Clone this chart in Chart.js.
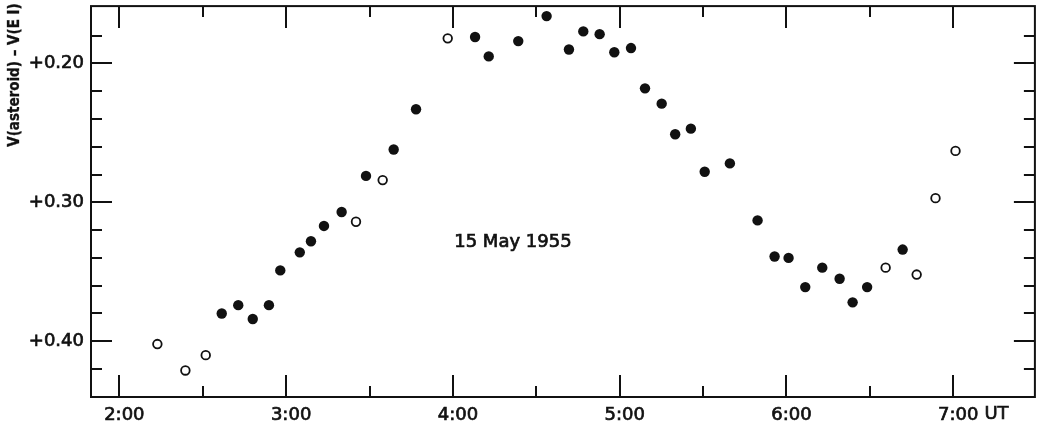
<!DOCTYPE html>
<html>
<head>
<meta charset="utf-8">
<script src="https://cdn.jsdelivr.net/npm/chart.js@4.4.0/dist/chart.umd.min.js"></script>
<style>
    body { margin: 0; background: #fff; }
    #wrap { width: 1041px; height: 433px; }
</style>
</head>
<body>
<div id="wrap"><canvas id="myChart"></canvas></div>
<script>
// time in decimal hours UT, value = V(asteroid) - V(E I)
const filledTimes = [2.614, 2.713, 2.800, 2.897, 2.965, 3.082, 3.149, 3.227, 3.333, 3.479,
    3.645, 3.779, 4.133, 4.215, 4.392, 4.562, 4.696, 4.782, 4.880, 4.968,
    5.068, 5.152, 5.252, 5.333, 5.427, 5.510, 5.661, 5.827, 5.929, 6.013,
    6.113, 6.215, 6.319, 6.397, 6.484, 6.697];
const filledValues = [0.380, 0.374, 0.384, 0.374, 0.349, 0.336, 0.328, 0.317, 0.307, 0.281,
    0.262, 0.233, 0.181, 0.195, 0.184, 0.166, 0.190, 0.177, 0.179, 0.192,
    0.189, 0.218, 0.229, 0.251, 0.247, 0.278, 0.272, 0.313, 0.339, 0.340,
    0.361, 0.347, 0.355, 0.372, 0.361, 0.334];

const openTimes = [2.228, 2.396, 2.518, 3.419, 3.579, 3.969, 6.595, 6.781, 6.894, 7.014];
const openValues = [0.402, 0.421, 0.410, 0.314, 0.284, 0.182, 0.347, 0.352, 0.297, 0.263];

const hourTicks = [2, 3, 4, 5, 6, 7];
const halfHourTicks = [2.5, 3.5, 4.5, 5.5, 6.5];
const magTicks = [0.20, 0.30, 0.40];
const magMinorTicks = [0.18, 0.22, 0.24, 0.26, 0.28, 0.32, 0.34, 0.36, 0.38, 0.42];

const axisTitle = "V(asteroid) \u2013 V(E I)";
const dateLabel = "15 May 1955";
const unitLabel = "UT";

const FONT = "'DejaVu Sans', sans-serif";
const INK = "#111";

function toPoints(xs, ys) {
    let result = [];
    for (let i = 0; i < xs.length; i++) {
        result.push({ x: xs[i], y: ys[i] });
    }
    return result;
}

// text with a thin outline so it looks as heavy as the printed figure
function heavyText(ctx, text, x, y) {
    ctx.fillText(text, x, y);
    ctx.strokeText(text, x, y);
}

// frame, inside ticks on all four sides, and the free text
const framePlugin = {
    id: 'frame',
    beforeDatasetsDraw(chart) {
        const ctx = chart.ctx;
        const a = chart.chartArea;
        const xs = chart.scales.x;
        const ys = chart.scales.y;
        ctx.save();
        ctx.strokeStyle = INK;
        ctx.lineWidth = 2;
        ctx.strokeRect(a.left, a.top, a.right - a.left, a.bottom - a.top);

        ctx.beginPath();
        const xTick = (v, len) => {
            const px = Math.round(xs.getPixelForValue(v));
            ctx.moveTo(px, a.bottom); ctx.lineTo(px, a.bottom - len);
            ctx.moveTo(px, a.top); ctx.lineTo(px, a.top + len);
        };
        const yTick = (v, len) => {
            const py = Math.round(ys.getPixelForValue(v));
            ctx.moveTo(a.left, py); ctx.lineTo(a.left + len, py);
            ctx.moveTo(a.right, py); ctx.lineTo(a.right - len, py);
        };
        hourTicks.forEach(v => xTick(v, 22));
        halfHourTicks.forEach(v => xTick(v, 11));
        magTicks.forEach(v => yTick(v, 21));
        magMinorTicks.forEach(v => yTick(v, 11));
        ctx.stroke();
        ctx.restore();
    },
    afterDraw(chart) {
        const ctx = chart.ctx;
        const xs = chart.scales.x;
        const ys = chart.scales.y;
        ctx.save();
        ctx.fillStyle = INK;
        ctx.strokeStyle = INK;
        ctx.lineWidth = 0.7;

        // "UT" after the last hour label
        ctx.font = "18px " + FONT;
        const lastX = xs.getPixelForValue(hourTicks[hourTicks.length - 1]) + 5;
        const w = ctx.measureText("7:00").width;
        ctx.textAlign = 'left';
        ctx.textBaseline = 'middle';
        heavyText(ctx, unitLabel, lastX + w / 2 + 6, 414);

        // date label inside the plot
        ctx.textAlign = 'center';
        heavyText(ctx, dateLabel, xs.getPixelForValue(4.36), ys.getPixelForValue(0.329));

        // rotated y title in the top left corner
        ctx.font = "bold 15px 'DejaVu Sans Condensed', 'DejaVu Sans', sans-serif";
        ctx.lineWidth = 0.3;
        ctx.translate(15, 75);
        ctx.rotate(-Math.PI / 2);
        heavyText(ctx, axisTitle, 0, 0);
        ctx.restore();
    }
};

const data = {
    datasets: [{
        label: 'filled',
        data: toPoints(filledTimes, filledValues),
        pointRadius: 5.2,
        pointBackgroundColor: INK,
        pointBorderColor: INK,
        pointBorderWidth: 0,
        showLine: false
    }, {
        label: 'open',
        data: toPoints(openTimes, openValues),
        pointRadius: 4.3,
        pointBackgroundColor: '#fff',
        pointBorderColor: INK,
        pointBorderWidth: 1.8,
        showLine: false
    }]
};

const config = {
    type: 'scatter',
    data: data,
    options: {
        responsive: true,
        maintainAspectRatio: false,
        animation: false,
        layout: { padding: { top: 6, right: 6, left: 0, bottom: 0 } },
        plugins: {
            legend: { display: false },
            tooltip: { enabled: false }
        },
        scales: {
            x: {
                type: 'linear',
                min: 1.830,
                max: 7.490,
                grid: { display: false, drawTicks: false },
                border: { display: false },
                afterBuildTicks: (scale) => {
                    scale.ticks = hourTicks.map(v => ({ value: v }));
                },
                afterFit: (scale) => {
                    scale.height = 36;
                    scale.paddingLeft = 0;
                    scale.paddingRight = 0;
                },
                ticks: {
                    color: INK,
                    padding: 8,
                    labelOffset: 5,
                    maxRotation: 0,
                    autoSkip: false,
                    textStrokeColor: INK,
                    textStrokeWidth: 0.7,
                    font: { family: FONT, size: 18 },
                    callback: (v) => v + ":00"
                }
            },
            y: {
                type: 'linear',
                reverse: true,
                min: 0.1588,
                max: 0.4401,
                grid: { display: false, drawTicks: false },
                border: { display: false },
                afterBuildTicks: (scale) => {
                    scale.ticks = magTicks.map(v => ({ value: v }));
                },
                afterFit: (scale) => {
                    scale.width = 91;
                    scale.paddingTop = 0;
                    scale.paddingBottom = 0;
                },
                ticks: {
                    color: INK,
                    padding: 7,
                    autoSkip: false,
                    textStrokeColor: INK,
                    textStrokeWidth: 0.7,
                    font: { family: FONT, size: 18 },
                    callback: (v) => "+" + v.toFixed(2)
                }
            }
        }
    },
    plugins: [framePlugin]
};

const myChart = new Chart(document.getElementById('myChart'), config);
</script>
</body>
</html>
